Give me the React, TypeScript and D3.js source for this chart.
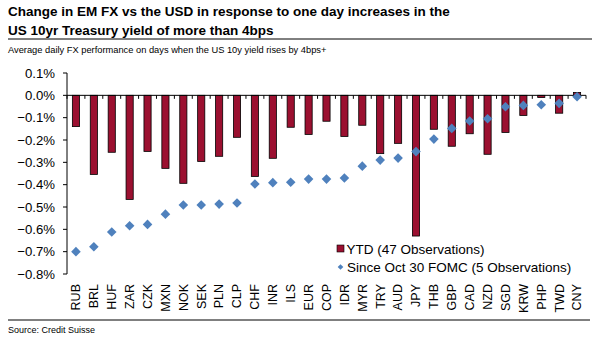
import React from "react";
import * as d3 from "d3";

const categories = ["RUB","BRL","HUF","ZAR","CZK","MXN","NOK","SEK","PLN","CLP","CHF","INR","ILS","EUR","COP","IDR","MYR","TRY","AUD","JPY","THB","GBP","CAD","NZD","SGD","KRW","PHP","TWD","CNY"];
const ytd = [-0.14,-0.354,-0.255,-0.466,-0.251,-0.327,-0.394,-0.296,-0.273,-0.188,-0.363,-0.282,-0.143,-0.175,-0.116,-0.184,-0.134,-0.261,-0.215,-0.63,-0.152,-0.228,-0.172,-0.264,-0.166,-0.09,-0.01,-0.08,0.013];
const sinceFomc = [-0.70,-0.678,-0.612,-0.584,-0.578,-0.532,-0.491,-0.491,-0.487,-0.482,-0.397,-0.391,-0.389,-0.375,-0.375,-0.370,-0.317,-0.290,-0.281,-0.252,-0.196,-0.148,-0.115,-0.105,-0.051,-0.045,-0.042,-0.036,-0.006];
const yTicks = [0.1,0,-0.1,-0.2,-0.3,-0.4,-0.5,-0.6,-0.7,-0.8];

const title1 = "Change in EM FX vs the USD in response to one day increases in the";
const title2 = "US 10yr Treasury yield of more than 4bps";
const subtitle = "Average daily FX performance on days when the US 10y yield rises by 4bps+";
const source = "Source: Credit Suisse";
const legendLabels = ["YTD (47 Observations)", "Since Oct 30 FOMC (5 Observations)"];

const BAR = "#9B1030";
const DIA = "#4F81BD";
const FONT = "Liberation Sans, Arial, sans-serif";

export default function App() {
  const W = 595, H = 340;
  const left = 67, right = 586;
  const x = d3.scaleBand<string>().domain(categories).range([left, right]).paddingInner(0.6).paddingOuter(0.3);
  const xc = (c: string) => (x(c) as number) + x.bandwidth() / 2;
  const y = d3.scaleLinear().domain([0.1, -0.8]).range([73, 274]);
  const step = (right - left) / categories.length;
  const diamondPath = d3.symbol().type(d3.symbolSquare).size(46)();

  return (
    <svg width={W} height={H} style={{ position: "absolute", left: 0, top: 0, background: "#fff" }} fontFamily={FONT}>
      <text x={8} y={16} fontSize={13.5} fontWeight="bold">{title1}</text>
      <text x={8} y={35} fontSize={13.5} fontWeight="bold">{title2}</text>
      <line x1={8} x2={592} y1={39} y2={39} stroke="#000" strokeWidth={1} />
      <text x={8} y={53} fontSize={9.3}>{subtitle}</text>

      {/* y axis */}
      <line x1={left} x2={left} y1={y(0.1)} y2={y(-0.8)} stroke="#000" />
      {yTicks.map((t) => (
        <g key={t}>
          <line x1={left - 4} x2={left} y1={y(t)} y2={y(t)} stroke="#000" />
          <text x={55} y={y(t)} dy="0.35em" fontSize={13.2} textAnchor="end">{d3.format(".1f")(t) + "%"}</text>
        </g>
      ))}

      {/* bars */}
      {categories.map((c, i) => (
        <rect key={c} x={x(c)} width={x.bandwidth()} y={y(Math.max(0, ytd[i]))} height={Math.abs(y(ytd[i]) - y(0))}
          fill={BAR} stroke="#000" strokeWidth={0.8} />
      ))}

      {/* x axis */}
      <line x1={left} x2={right} y1={y(0)} y2={y(0)} stroke="#000" />
      {d3.range(categories.length + 1).map((i) => (
        <line key={i} x1={left + i * step} x2={left + i * step} y1={y(0)} y2={y(0) + 3.5} stroke="#000" />
      ))}

      {/* diamonds */}
      {categories.map((c, i) => (
        <path key={c} transform={`translate(${xc(c)},${y(sinceFomc[i])}) rotate(45)`} d={diamondPath as string} fill={DIA} />
      ))}

      {/* x labels */}
      {categories.map((c) => (
        <text key={c} transform={`translate(${xc(c)},284) rotate(-90)`} textAnchor="end" dy="0.35em" fontSize={12.5}>{c}</text>
      ))}

      {/* legend */}
      <rect x={337} y={245} width={7} height={7} fill={BAR} stroke="#000" strokeWidth={0.6} />
      <text x={346.5} y={254} fontSize={13.5}>{legendLabels[0]}</text>
      <path transform="translate(340.5,267) rotate(45)" d={d3.symbol().type(d3.symbolSquare).size(16)() as string} fill={DIA} />
      <text x={347} y={272} fontSize={13.5}>{legendLabels[1]}</text>

      <line x1={8} x2={590} y1={320} y2={320} stroke="#000" />
      <text x={8} y={333} fontSize={9}>{source}</text>
    </svg>
  );
}
